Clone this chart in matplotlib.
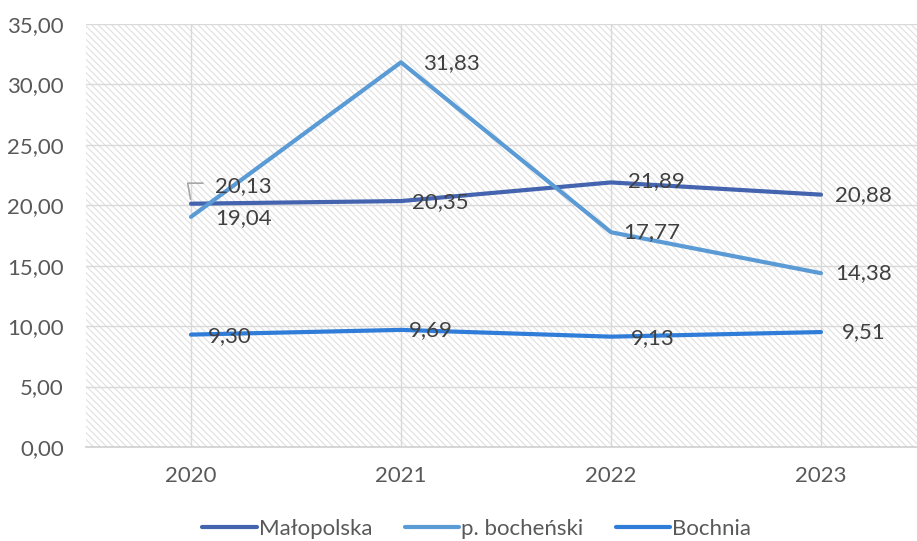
import matplotlib
matplotlib.use("Agg")
import matplotlib.pyplot as plt
from matplotlib.patches import Rectangle

years = ["2020", "2021", "2022", "2023"]
malopolska = [20.13, 20.35, 21.89, 20.88]
bochenski = [19.04, 31.83, 17.77, 14.38]
bochnia = [9.30, 9.69, 9.13, 9.51]
series_names = ["Małopolska", "p. bocheński", "Bochnia"]
yticks = [0, 5, 10, 15, 20, 25, 30, 35]

colors = ["#4464B0", "#5B9BD5", "#2F7DD8"]

plt.rcParams['font.family'] = ['Lato', 'DejaVu Sans']
plt.rcParams['hatch.color'] = '#E0E0E0'
plt.rcParams['hatch.linewidth'] = 0.8

FS = 16

fig = plt.figure(figsize=(9.17, 5.41), dpi=100)
ax = fig.add_axes([86/917, 1-447/541, 840/917, (447-24)/541])

x = list(range(len(years)))
ax.set_xlim(-0.5, len(years) - 0.5)
ax.set_ylim(0, 35)

# hatched background
ax.add_patch(Rectangle((0, 0), 1, 1, transform=ax.transAxes, facecolor='white',
                       edgecolor='#E0E0E0', hatch='\\' * 5, linewidth=0, zorder=0))

ax.set_yticks(yticks)
ax.set_yticklabels([f"{v:.2f}".replace('.', ',') for v in yticks])
ax.set_xticks(x)
ax.set_xticklabels(years)
ax.grid(True, color='#D9D9D9', linewidth=1, zorder=1)
ax.set_axisbelow(True)
for s in ['top', 'right', 'left']:
    ax.spines[s].set_visible(False)
ax.spines['bottom'].set_color('#D0D0D0')
ax.spines['bottom'].set_linewidth(1.2)
ax.tick_params(length=0, labelsize=FS, colors='#595959')
ax.tick_params(axis='y', pad=16)
ax.tick_params(axis='x', pad=14)

data = [malopolska, bochenski, bochnia]
for vals, c, name in zip(data, colors, series_names):
    ax.plot(x, vals, color=c, linewidth=3, label=name, solid_capstyle='round', zorder=3)

def fmt(v):
    return f"{v:.2f}".replace('.', ',')

# label offsets (pixels)
offsets = {
    (0, 0): (24, 18), (0, 1): (24, -1), (0, 2): (17, -1),
    (1, 0): (11, -1), (1, 1): (22, -1), (1, 2): (8, 0),
    (2, 0): (17, 1), (2, 1): (12, 0), (2, 2): (20, -1),
    (3, 0): (14, 0), (3, 1): (14, 0), (3, 2): (21, 0),
}
for si, vals in enumerate(data):
    for i, v in enumerate(vals):
        dx, dy = offsets[(i, si)]
        ax.annotate(fmt(v), (i, v), xytext=(dx * 0.72, dy * 0.72), textcoords='offset points',
                    ha='left', va='center', fontsize=FS, color='#404040', zorder=4)

# leader line for first Małopolska label
ax.annotate("", xy=(0.0, malopolska[0] + 0.15), xytext=(0.07, malopolska[0] + 1.7),
            arrowprops=dict(arrowstyle='-', color='#A6A6A6', lw=1.2,
                            connectionstyle='angle,angleA=0,angleB=100,rad=0'), zorder=4)

leg = fig.legend(loc='lower center', bbox_to_anchor=(0.52, -0.033), ncol=3, frameon=False,
                 fontsize=FS, handlelength=2.45, handletextpad=0.1, columnspacing=1.45)
for t in leg.get_texts():
    t.set_color('#595959')

fig.savefig("out.png", dpi=100)
